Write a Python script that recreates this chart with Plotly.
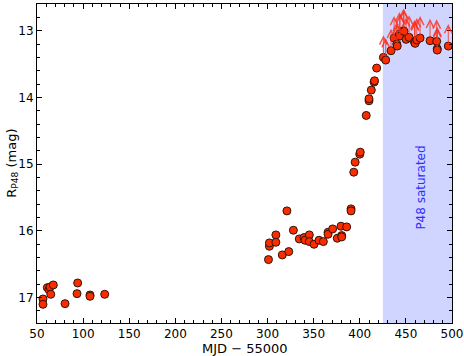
import plotly.graph_objects as go

# R_P48 light curve (MJD - 55000, mag)
mjd_early = [56.5, 56.5, 61.2, 63.0, 64.1, 67.7, 64.9, 80.4, 94.1, 93.4, 107.5, 107.5, 123.4]
mag_early = [17.02, 17.10, 16.85, 16.88, 16.84, 16.81, 16.95, 17.09, 16.78, 16.94, 16.96, 16.98, 16.95]

mjd_mid = [301, 302, 302, 309, 309, 316, 321, 323, 328, 334.4, 339.5, 340.6, 345.3, 345.3,
           350.4, 355.8, 360.5, 365.6, 365.6, 370.6, 375.6, 380.4, 380.4, 379.6, 385.8, 390.5, 390.5]
mag_mid = [16.43, 16.23, 16.18, 16.06, 16.17, 16.36, 15.70, 16.31, 15.99, 16.12, 16.10, 16.14, 16.06, 16.16,
           16.20, 16.14, 16.16, 16.02, 16.05, 15.97, 16.11, 16.07, 16.09, 15.93, 15.94, 15.67, 15.70]

mjd_rise = [393.5, 395, 400, 400.5, 407, 410, 410, 412.5, 415.5, 416, 418.3]
mag_rise = [15.12, 14.97, 14.85, 14.82, 14.27, 14.05, 14.02, 13.89, 13.77, 13.75, 13.56]

# saturated epochs (lower limits on brightness)
mjd_sat = [425.6, 428.1, 433.9, 437.2, 440.1, 440.6, 443.0, 443.8, 447.3, 448.0, 450.2, 453.5,
           459.3, 460.0, 461.8, 465.4, 476.2, 483.4, 484.0, 484.0, 496.0]
mag_sat = [13.40, 13.44, 13.30, 13.11, 13.20, 13.23, 13.05, 13.08, 13.00, 13.01, 13.13, 13.10,
           13.17, 13.19, 13.14, 13.11, 13.15, 13.16, 13.27, 13.29, 13.23]

sat_start, sat_end = 425, 500
arrow_len = 0.33

x_all = mjd_early + mjd_mid + mjd_rise + mjd_sat
y_all = mag_early + mag_mid + mag_rise + mag_sat

fig = go.Figure()

fig.add_vrect(x0=sat_start, x1=sat_end, fillcolor="rgb(207,213,255)", opacity=1,
              line_width=0, layer="below")

# upward arrows for saturated points
for xv, yv in zip(mjd_sat, mag_sat):
    fig.add_annotation(
        x=xv, y=yv - arrow_len, ax=xv, ay=yv, xref="x", yref="y", axref="x", ayref="y",
        text="", showarrow=True, arrowhead=5, arrowsize=1.5, arrowwidth=1,
        arrowcolor="rgba(255,45,25,0.8)", standoff=0, startstandoff=0,
    )

fig.add_trace(go.Scatter(
    x=x_all, y=y_all, mode="markers",
    marker=dict(size=8, color="rgb(250,45,0)", line=dict(color="rgb(50,20,10)", width=1)),
    showlegend=False,
))

fig.add_annotation(
    x=465.4, y=15.35, xref="x", yref="y", text="P48 saturated", showarrow=False,
    textangle=-90, font=dict(color="rgb(45,45,255)", size=12),
)

# axis titles placed by hand
fig.add_annotation(
    x=0.5, y=-0.05, xref="paper", yref="paper", yanchor="top", text="MJD \u2212 55000",
    showarrow=False, font=dict(size=13),
)
fig.add_annotation(
    x=-0.085, y=0.5, xref="paper", yref="paper", text="R<sub>P48</sub> (mag)",
    showarrow=False, textangle=-90, font=dict(size=13),
)

axis_common = dict(
    showline=True, linecolor="black", linewidth=1, mirror="ticks",
    ticks="inside", ticklen=5, tickcolor="black", showgrid=False, zeroline=False,
    tickfont=dict(size=12, color="black"), automargin=False,
)

fig.update_xaxes(
    range=[50, 500], dtick=50, tick0=50,
    minor=dict(ticks="inside", ticklen=3, dtick=10, tickcolor="black"),
    **axis_common,
)
fig.update_yaxes(
    range=[17.38, 12.6], dtick=1, tick0=13,
    minor=dict(ticks="inside", ticklen=3, dtick=0.2, tickcolor="black"),
    **axis_common,
)

fig.update_layout(
    width=464, height=356,
    margin=dict(l=37, r=12, t=4, b=33),
    plot_bgcolor="white", paper_bgcolor="white",
    font=dict(family="DejaVu Sans", color="black"),
)

fig.write_html("out.html", config={"displayModeBar": False},
               post_script="document.body.style.margin='0px';")
